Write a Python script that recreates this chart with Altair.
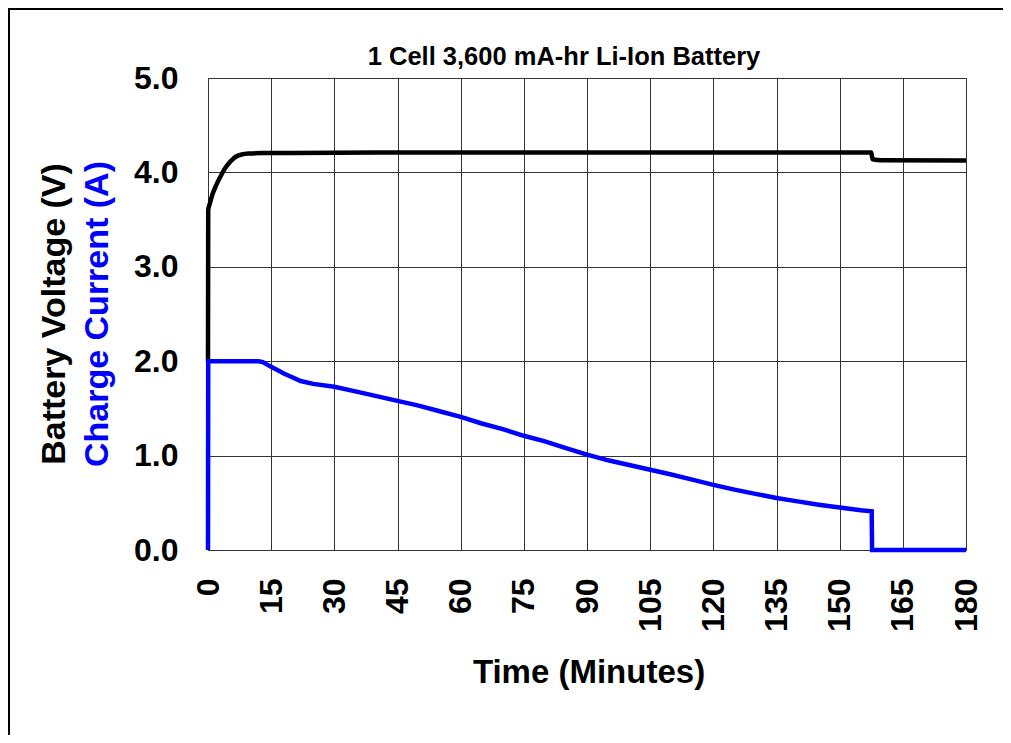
import altair as alt
import pandas as pd

# ---- data ----
v_time = [0, 0.05, 0.5, 1.0, 2.0, 3.0, 4.0, 5.0, 6.0, 7.0, 8.0, 10, 13, 20, 40, 80, 120, 157.5, 157.8, 160, 180]
v_volt = [2.0, 3.60, 3.68, 3.76, 3.87, 3.96, 4.04, 4.10, 4.145, 4.175, 4.19, 4.20, 4.205, 4.205, 4.21, 4.21,
          4.21, 4.21, 4.14, 4.13, 4.125]

i_time = [0, 0.05, 12, 13, 15, 18, 20, 22, 25, 30, 35, 40, 45, 50, 55, 60, 65, 70, 75, 80, 85, 90,
          95, 100, 105, 110, 115, 120, 125, 130, 135, 140, 145, 150, 155, 157.6, 157.7, 180]
i_amps = [0.0, 2.0, 2.0, 1.99, 1.94, 1.87, 1.83, 1.79, 1.76, 1.73, 1.68, 1.63, 1.58, 1.53, 1.47, 1.41,
          1.34, 1.28, 1.21, 1.15, 1.08, 1.01, 0.95, 0.90, 0.85, 0.80, 0.745, 0.69, 0.64, 0.595, 0.55,
          0.515, 0.48, 0.45, 0.42, 0.41, 0.0, 0.0]

x_ticks = list(range(0, 181, 15))
y_ticks = [0, 1, 2, 3, 4, 5]

title_text = "1 Cell 3,600 mA-hr Li-Ion Battery"
x_title = "Time (Minutes)"
y_title_1 = "Battery Voltage (V)"
y_title_2 = "Charge Current (A)"

FONT = "Liberation Sans"
W, H = 758, 472

volt_df = pd.DataFrame({"t": v_time, "v": v_volt, "i": range(len(v_time))})
amp_df = pd.DataFrame({"t": i_time, "v": i_amps, "i": range(len(i_time))})

x_enc = alt.X("t:Q", scale=alt.Scale(domain=[0, 180], nice=False),
              axis=alt.Axis(values=x_ticks, labelAngle=270, labelPadding=28, title=None))
y_enc = alt.Y("v:Q", scale=alt.Scale(domain=[0, 5], nice=False),
              axis=alt.Axis(values=y_ticks, format=".1f", labelPadding=30, title=None))

volt = alt.Chart(volt_df).mark_line(color="black", strokeWidth=4.5, interpolate="monotone").encode(
    x=x_enc, y=y_enc, order=alt.Order("i:Q"))
amp = alt.Chart(amp_df).mark_line(color="#0000FF", strokeWidth=4.5).encode(
    x=x_enc, y=y_enc, order=alt.Order("i:Q"))

one = alt.Data(values=[{"a": 1}])

frame = alt.Chart(one).mark_rect(fill="transparent", stroke="black", strokeWidth=2).encode(
    x=alt.value(-199), x2=alt.value(1200), y=alt.value(-69), y2=alt.value(1000))

title = alt.Chart(one).mark_text(text=title_text, font=FONT, fontWeight="bold", fontSize=25.5,
                                 align="center", baseline="alphabetic", color="black").encode(
    x=alt.value(356), y=alt.value(-13))

xt = alt.Chart(one).mark_text(text=x_title, font=FONT, fontWeight="bold", fontSize=33,
                              align="center", baseline="alphabetic", color="black").encode(
    x=alt.value(381), y=alt.value(605))

yt1 = alt.Chart(one).mark_text(text=y_title_1, font=FONT, fontWeight="bold", fontSize=34,
                               angle=270, align="center", baseline="alphabetic", color="black").encode(
    x=alt.value(-143), y=alt.value(236))
yt2 = alt.Chart(one).mark_text(text=y_title_2, font=FONT, fontWeight="bold", fontSize=34,
                               angle=270, align="center", baseline="alphabetic", color="#0000FF").encode(
    x=alt.value(-100), y=alt.value(236))

chart = alt.layer(volt, amp, frame, title, xt, yt1, yt2).properties(
    width=W, height=H,
    autosize=alt.AutoSizeParams(type="none"),
    padding={"left": 200, "top": 70, "right": 37, "bottom": 185},
    background="white",
).configure_view(
    stroke="#888888", strokeWidth=1
).configure_axis(
    grid=True, gridColor="#333333", gridWidth=1, gridOpacity=1,
    domain=False, ticks=False,
    labelFont=FONT, labelFontWeight="bold", labelFontSize=32, labelColor="black",
)

chart.save("out.html", embed_options={"renderer": "svg", "actions": False})
